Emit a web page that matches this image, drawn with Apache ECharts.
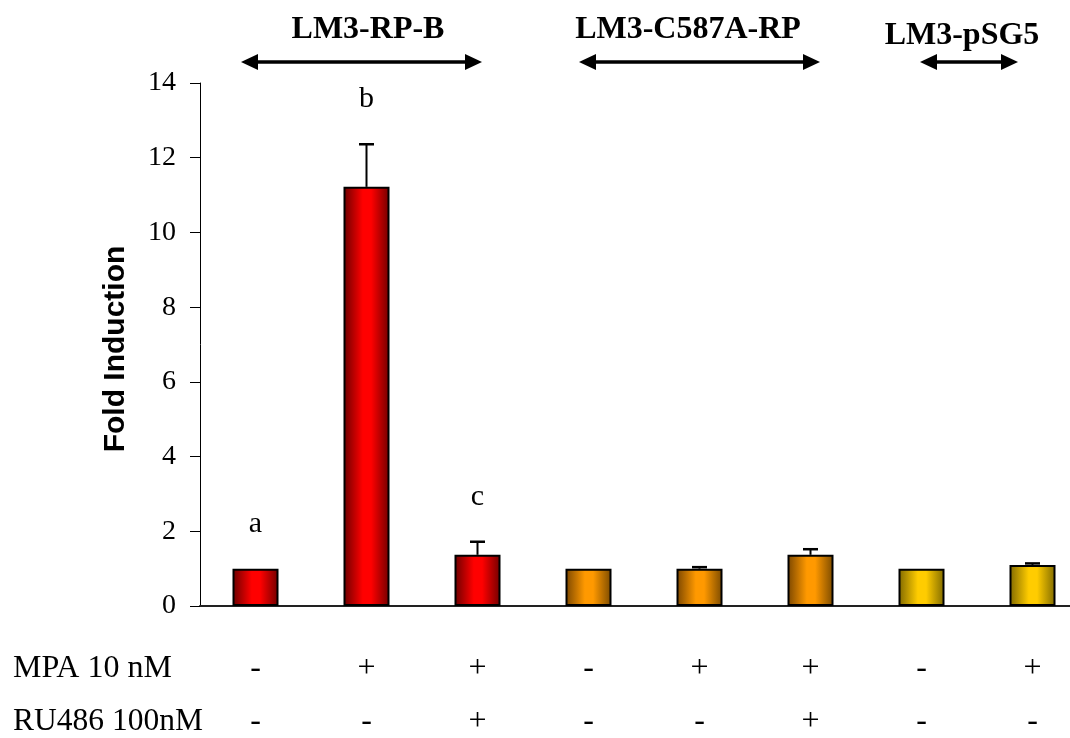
<!DOCTYPE html>
<html><head><meta charset="utf-8">
<script src="https://cdn.jsdelivr.net/npm/echarts@6/dist/echarts.min.js"></script>
<style>html,body{margin:0;padding:0;background:#fff}#c{width:1070px;height:738px}</style>
</head><body><div id="c"></div>
<script>
const categories = ['RP-B ctrl','RP-B MPA','RP-B MPA+RU486','C587A ctrl','C587A MPA','C587A MPA+RU486','pSG5 ctrl','pSG5 MPA'];
const foldInduction = [1.0, 11.22, 1.37, 1.0, 1.0, 1.37, 1.0, 1.10];
const errorTop = [1.0, 12.36, 1.72, 1.0, 1.04, 1.52, 1.0, 1.14];
const letters = ['a','b','c','','','','',''];
const mpa = ['-','+','+','-','+','+','-','+'];
const ru486 = ['-','-','+','-','-','+','-','-'];
const construct = ['rp','rp','rp','c587','c587','c587','psg5','psg5'];
const rowTitles = ['MPA 10 nM','RU486 100nM'];
const groupTitles = ['LM3-RP-B','LM3-C587A-RP','LM3-pSG5'];

function grad(edgeL, mid, edgeR){
  return new echarts.graphic.LinearGradient(0,0,1,0,[
    {offset:0,color:edgeL},{offset:0.42,color:mid},{offset:0.6,color:mid},{offset:1,color:edgeR}]);
}
const fills = {
  rp: grad('#6a0000','#ff0000','#700000'),
  c587: grad('#7a4600','#ff9900','#7a4a00'),
  psg5: grad('#7f6800','#ffcc00','#7f6a00')
};

const chart = echarts.init(document.getElementById('c'));

function arrow(x1, x2, y){
  const h = 8, L = 17;
  return {type:'group', children:[
    {type:'line', shape:{x1:x1+L-2, y1:y, x2:x2-L+2, y2:y}, style:{stroke:'#000', lineWidth:3.5}},
    {type:'polygon', shape:{points:[[x1,y],[x1+L,y-h],[x1+L,y+h]]}, style:{fill:'#000'}},
    {type:'polygon', shape:{points:[[x2,y],[x2-L,y-h],[x2-L,y+h]]}, style:{fill:'#000'}}
  ]};
}
const serif = '"Liberation Serif","Times New Roman",serif';
const titleFont = 'bold 32px ' + serif;

chart.setOption({
  animation:false,
  backgroundColor:'#fff',
  grid:{left:200, top:83, width:888, height:523, containLabel:false, outerBoundsMode:'none'},
  xAxis:{
    type:'category', data:categories,
    axisLine:{lineStyle:{color:'#222', width:2}},
    axisTick:{show:false},
    axisLabel:{
      formatter:function(v, i){ return mpa[i] + '\n' + ru486[i]; },
      fontFamily:serif, fontSize:32, lineHeight:53, color:'#000', margin:36, interval:0
    }
  },
  yAxis:{
    type:'value', min:0, max:14, interval:2,
    axisLine:{show:true, lineStyle:{color:'#000', width:1}},
    axisTick:{show:true, length:10, lineStyle:{color:'#000'}},
    splitLine:{show:false},
    axisLabel:{fontFamily:serif, fontSize:28, color:'#000', margin:24}
  },
  series:[
    {
      type:'bar', barWidth:46,
      data: foldInduction.map((v,i)=>({value:v, itemStyle:{color:fills[construct[i]]}})),
      itemStyle:{borderColor:'#000', borderWidth:2}
    },
    {
      type:'custom', z:5,
      data: categories.map((c,i)=>[i, foldInduction[i], errorTop[i]]),
      renderItem:function(params, api){
        const i = api.value(0), v = api.value(1), e = api.value(2);
        const base = api.coord([i, v]);
        const top = api.coord([i, e]);
        const ch = [];
        if (e > v + 0.001){
          ch.push({type:'line', shape:{x1:base[0], y1:base[1], x2:top[0], y2:top[1]}, style:{stroke:'#000', lineWidth:2}});
          ch.push({type:'line', shape:{x1:top[0]-7.5, y1:top[1], x2:top[0]+7.5, y2:top[1]}, style:{stroke:'#000', lineWidth:2.5}});
        }
        const letter = letters[params.dataIndex];
        if (letter){
          ch.push({type:'text', style:{text:letter, x:top[0], y:top[1]-45, align:'center', verticalAlign:'middle', font:'30px ' + serif, fill:'#000'}});
        }
        return {type:'group', children:ch};
      }
    }
  ],
  graphic:[
    {type:'text', style:{text:'Fold Induction', x:0, y:0, align:'center', verticalAlign:'middle', font:'bold 30px "Liberation Sans", Arial, sans-serif', fill:'#000'}, x:116, y:349, rotation:Math.PI/2},
    {type:'text', style:{text:rowTitles[0], x:13, y:669, align:'left', verticalAlign:'middle', font:'32px ' + serif, fill:'#000'}},
    {type:'text', style:{text:rowTitles[1], x:13, y:722, align:'left', verticalAlign:'middle', font:'31.5px ' + serif, fill:'#000'}},
    {type:'text', style:{text:groupTitles[0], x:368, y:30, align:'center', verticalAlign:'middle', font:titleFont, fill:'#000'}},
    {type:'text', style:{text:groupTitles[1], x:688, y:30, align:'center', verticalAlign:'middle', font:titleFont, fill:'#000'}},
    {type:'text', style:{text:groupTitles[2], x:962, y:36, align:'center', verticalAlign:'middle', font:titleFont, fill:'#000'}},
    arrow(241, 482, 62),
    arrow(579, 820, 62),
    arrow(920, 1018, 62)
  ]
});
</script></body></html>
